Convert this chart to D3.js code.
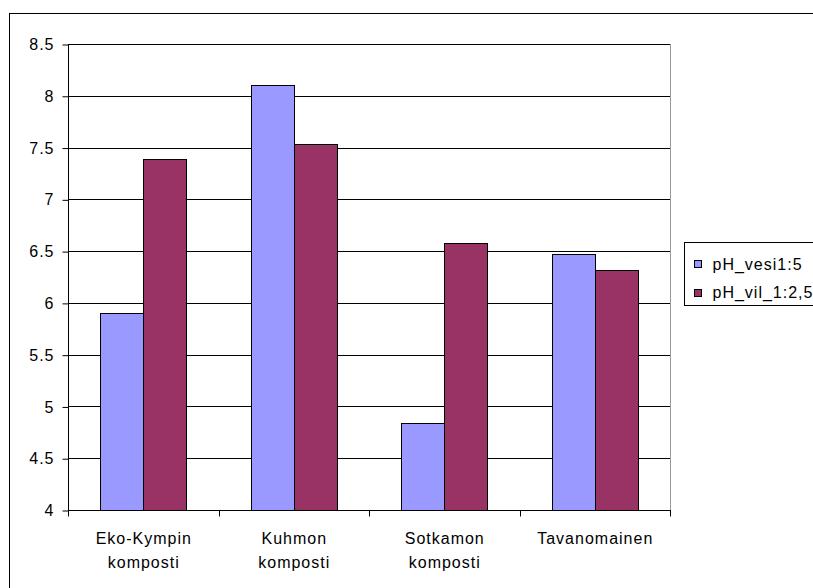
<!DOCTYPE html>
<html>
<head>
<meta charset="utf-8">
<script src="https://cdn.jsdelivr.net/npm/d3@7/dist/d3.min.js"></script>
<style>
  html, body { margin: 0; padding: 0; background: #fff; }
  svg { display: block; font-family: "Liberation Sans", Arial, sans-serif; }
  text { letter-spacing: 1px; }
</style>
</head>
<body>
<svg id="chart" width="813" height="588"></svg>
<script>
const categories = [["Eko-Kympin", "komposti"], ["Kuhmon", "komposti"], ["Sotkamon", "komposti"], ["Tavanomainen"]];
const seriesNames = ["pH_vesi1:5", "pH_vil_1:2,5"];
const pH_vesi = [5.90, 8.10, 4.84, 6.47];
const pH_vil = [7.39, 7.53, 6.58, 6.32];
const yTicks = [4, 4.5, 5, 5.5, 6, 6.5, 7, 7.5, 8, 8.5];
const colors = ["#9999FF", "#993366"];

(function () {
const svg = d3.select("#chart");
const pl = 68, pr = 670, pt = 44, pb = 510;
const FS = 16;

// outer border (extends past the picture on right and bottom)
svg.append("rect").attr("x", 9.5).attr("y", 13.5).attr("width", 820).attr("height", 590)
  .attr("fill", "none").attr("stroke", "#000").attr("stroke-width", 1);

const x0 = d3.scaleBand().domain(d3.range(categories.length)).range([pl, pr]).paddingInner(0).paddingOuter(0);
const gapFrac = 64.5 / 150.5;
const x1 = d3.scaleBand().domain([0, 1]).range([x0.bandwidth() * gapFrac / 2, x0.bandwidth() * (1 - gapFrac / 2)]);
const y = d3.scaleLinear().domain([4, 8.5]).range([pb, pt]);

// gridlines
svg.append("g").selectAll("line").data(yTicks.slice(1)).join("line")
  .attr("x1", pl).attr("x2", pr)
  .attr("y1", d => Math.round(y(d)) + 0.5).attr("y2", d => Math.round(y(d)) + 0.5)
  .attr("stroke", "#000").attr("stroke-width", 1);

// plot right border
svg.append("line").attr("x1", pr + 0.5).attr("x2", pr + 0.5).attr("y1", pt).attr("y2", pb)
  .attr("stroke", "#999");

// bars
const series = [pH_vesi, pH_vil];
const g = svg.append("g");
series.forEach((vals, si) => {
  g.selectAll(".s" + si).data(vals).join("rect").attr("class", "s" + si)
    .attr("x", (d, i) => Math.round(x0(i) + x1(si)) + 0.5)
    .attr("y", d => Math.round(y(d)) + 0.5)
    .attr("width", Math.round(x1.bandwidth()))
    .attr("height", d => pb - Math.round(y(d)))
    .attr("fill", colors[si]).attr("stroke", "#000").attr("stroke-width", 1);
});

// y axis
const yAxis = d3.axisLeft(y).tickValues(yTicks).tickSize(6).tickPadding(8).tickFormat(d3.format(""));
const ya = svg.append("g").attr("transform", `translate(${pl + 0.5},0.5)`).call(yAxis);
ya.selectAll("text").attr("font-size", FS).attr("fill", "#000").attr("font-family", "Liberation Sans, Arial, sans-serif");
ya.selectAll("line,path").attr("stroke", "#000");
ya.select(".domain").attr("d", `M0,${pt}V${pb}`);

// x axis
const xa = svg.append("g").attr("transform", `translate(0,${pb + 0.5})`);
xa.append("line").attr("x1", pl).attr("x2", pr + 1).attr("stroke", "#000");
const tickPos = d3.range(categories.length + 1).map(i => i < categories.length ? x0(i) : pr);
xa.selectAll(".tk").data(tickPos).join("line").attr("class", "tk")
  .attr("x1", d => Math.round(d) + 0.5).attr("x2", d => Math.round(d) + 0.5)
  .attr("y1", 0).attr("y2", 6).attr("stroke", "#000");
xa.selectAll(".lbl").data(categories).join("text").attr("class", "lbl")
  .attr("text-anchor", "middle").attr("font-size", FS).attr("fill", "#000")
  .attr("x", (d, i) => x0(i) + x0.bandwidth() / 2 + 0.5)
  .each(function(d) {
    const cx = d3.select(this).attr("x");
    d3.select(this).selectAll("tspan").data(d).join("tspan")
      .attr("x", cx)
      .attr("y", (t, j) => 33.5 + j * 23.5)
      .text(t => t);
  });

// legend
const lg = svg.append("g");
lg.append("rect").attr("x", 684.5).attr("y", 242.5).attr("width", 140).attr("height", 63)
  .attr("fill", "#fff").attr("stroke", "#000");
seriesNames.forEach((n, i) => {
  const sy = 260 + i * 28.5;
  lg.append("rect").attr("x", 694.5).attr("y", Math.round(sy) + 0.5).attr("width", 7).attr("height", 7)
    .attr("fill", colors[i]).attr("stroke", "#000");
  lg.append("text").attr("x", 712.5).attr("y", 270 + i * 28.3).attr("font-size", FS).attr("fill", "#000").text(n);
});
})();
</script>
</body>
</html>
